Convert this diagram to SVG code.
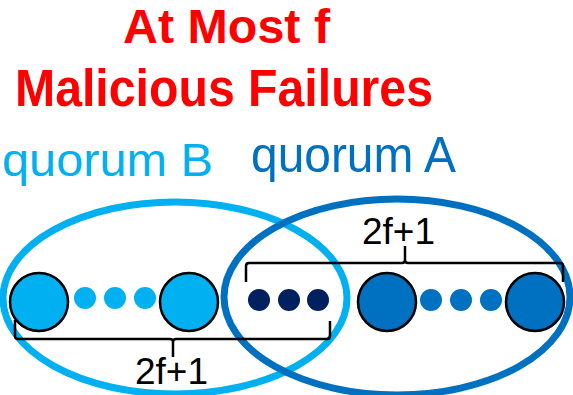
<svg xmlns="http://www.w3.org/2000/svg" width="573" height="395" viewBox="0 0 573 395">
<style>
.title{font-family:"Liberation Sans",Arial,sans-serif;font-weight:bold;fill:#FF0000;font-size:51px}
.q{font-family:"Liberation Sans",Arial,sans-serif}
.lbl{font-family:"Liberation Sans",Arial,sans-serif;font-size:36px;fill:#000}
.big{stroke:#000;stroke-width:2.5}
.br{fill:none;stroke:#000;stroke-width:2.5}
</style>
<rect width="573" height="395" fill="#fff"/>
<g id="title">
<text class="title" x="123" y="43" font-size="47.5" style="font-size:47.5px" textLength="207" lengthAdjust="spacingAndGlyphs">At Most f</text>
<text class="title" x="15" y="106" textLength="418" lengthAdjust="spacingAndGlyphs">Malicious Failures</text>
</g>
<g id="quorumB">
<ellipse cx="175" cy="298" rx="172" ry="96" fill="none" stroke="#00B0F0" stroke-width="7"/>
<text class="q" x="2" y="176" font-size="47" fill="#00B0F0" textLength="211" lengthAdjust="spacingAndGlyphs">quorum B</text>
</g>
<g id="quorumA">
<ellipse cx="397" cy="297" rx="173" ry="98" fill="none" stroke="#0070C0" stroke-width="7"/>
<text class="q" x="251" y="172" font-size="50" fill="#0070C0" textLength="205" lengthAdjust="spacingAndGlyphs">quorum A</text>
</g>
<g id="nodesB">
<circle class="big" cx="39" cy="302" r="29" fill="#00B0F0"/>
<circle cx="85" cy="298" r="11" fill="#00B0F0"/>
<circle cx="115" cy="298" r="11" fill="#00B0F0"/>
<circle cx="145" cy="298" r="11" fill="#00B0F0"/>
<circle class="big" cx="189" cy="302" r="29" fill="#00B0F0"/>
</g>
<g id="nodesShared">
<circle cx="259" cy="300" r="11" fill="#002060"/>
<circle cx="289" cy="300" r="11" fill="#002060"/>
<circle cx="318" cy="300" r="11" fill="#002060"/>
</g>
<g id="nodesA">
<circle class="big" cx="387" cy="302" r="29" fill="#0070C0"/>
<circle cx="431" cy="300" r="11" fill="#0070C0"/>
<circle cx="461" cy="300" r="11" fill="#0070C0"/>
<circle cx="491" cy="300" r="11" fill="#0070C0"/>
<circle class="big" cx="535" cy="302" r="29" fill="#0070C0"/>
</g>
<g id="connectors">
<path class="br" d="M15,320 L15,336 Q15,339 18,339 L170,339 Q173,339 173,342 L173,357 M173,342 Q173,339 176,339 L327,339 Q330,339 330,336 L330,321"/>
<path class="br" d="M246,282 L246,266 Q246,263 249,263 L402,263 Q405,263 405,260 L405,246 M405,260 Q405,263 408,263 L560,263 Q563,263 563,266 L563,282"/>
</g>
<g id="labels">
<text class="lbl" x="362" y="244" textLength="73" lengthAdjust="spacingAndGlyphs">2f+1</text>
<text class="lbl" x="135" y="384" textLength="73" lengthAdjust="spacingAndGlyphs">2f+1</text>
</g>
</svg>
